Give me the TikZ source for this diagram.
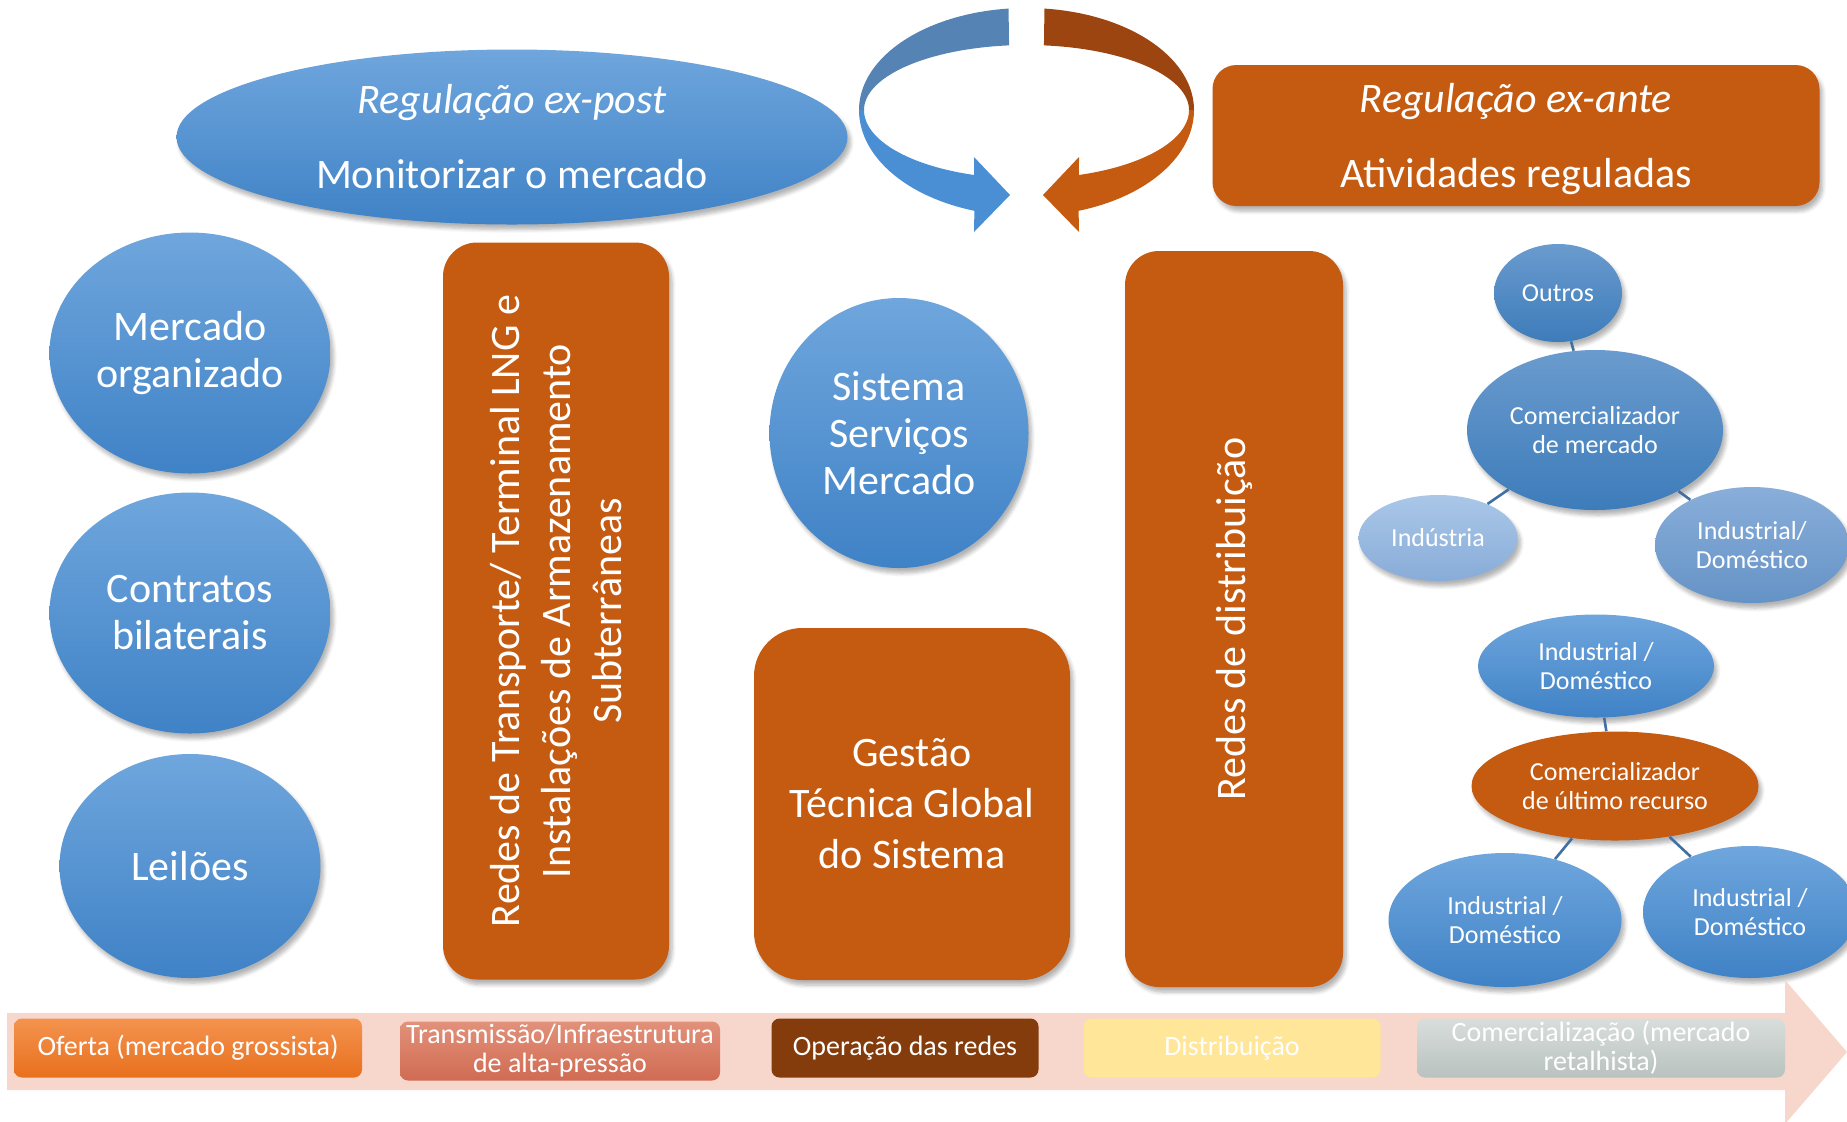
\documentclass[tikz,border=0pt]{standalone}
\usepackage{fontspec}
\setmainfont{Carlito}
\usetikzlibrary{shapes.geometric,shadows.blur}

\definecolor{orng}{HTML}{C55A11}
\definecolor{bluetop}{HTML}{6FA6DD}
\definecolor{bluebot}{HTML}{3F82C6}
\definecolor{steeltop}{HTML}{6A9BCE}
\definecolor{steelbot}{HTML}{3D7CBA}
\definecolor{paletop}{HTML}{AAC7E8}
\definecolor{palebot}{HTML}{88ACD8}
\definecolor{midtop}{HTML}{89AEDA}
\definecolor{midbot}{HTML}{6593C6}
\definecolor{linkblue}{HTML}{3F6FA3}
\definecolor{ribbonbluedark}{HTML}{5583B3}
\definecolor{ribbonbluelight}{HTML}{4A8FD3}
\definecolor{ribbonorgdark}{HTML}{9D4510}
\definecolor{barpink}{HTML}{F7D6CC}
\definecolor{ofertatop}{HTML}{F4934F}
\definecolor{ofertabot}{HTML}{E8701E}
\definecolor{transtop}{HTML}{E2917B}
\definecolor{transbot}{HTML}{D06B52}
\definecolor{operbrown}{HTML}{843C0C}
\definecolor{distyellow}{HTML}{FFE699}
\definecolor{comtop}{HTML}{D8DEDC}
\definecolor{combot}{HTML}{B9C2BF}

\newcommand{\bigtxt}{\fontsize{21}{25.5}\selectfont}
\newcommand{\ovaltxt}{\fontsize{21}{23.5}\selectfont}
\newcommand{\smalltxt}{\fontsize{13}{14.8}\selectfont}
\newcommand{\bartxt}{\fontsize{14}{14.5}\selectfont}

\begin{document}
\begin{tikzpicture}[x=0.5pt,y=-0.5pt,
  softshadow/.style={blur shadow={shadow xshift=1.5pt, shadow yshift=-2.5pt, shadow blur steps=6, shadow opacity=30}},
  whitebig/.style={text=white, align=center, font=\bigtxt},
  blueoval/.style={ellipse, inner sep=0pt, top color=bluetop, bottom color=bluebot, text=white, align=center, font=\ovaltxt, softshadow},
  orangebox/.style={rectangle, inner sep=0pt, fill=orng, whitebig, softshadow},
  smalloval/.style={ellipse, inner sep=0pt, text=white, align=center, font=\smalltxt, softshadow},
  barbox/.style={rectangle, rounded corners=4pt, inner sep=0pt, text=white, align=center, font=\bartxt, minimum height=29.5pt},
  link/.style={draw=linkblue, line width=1.3pt}
]
\useasboundingbox (0,0) rectangle (1847,1121);

% circular arrows between the two regulation regimes
\fill[ribbonbluedark]
  plot[domain=0:84, samples=50, variable=\t] ({1026+167*cos(-96-\t)},{110+102*sin(-96-\t)})
  -- plot[domain=0:84, samples=50, variable=\t] ({1026+162*cos(180+\t)},{110+65*sin(180+\t)})
  -- cycle;
\fill[ribbonbluelight]
  plot[domain=0:72, samples=50, variable=\t] ({1026+167*cos(180-\t)},{110+106*sin(180-\t)})
  -- (974,232) -- (1010,195) -- (974,157)
  -- plot[domain=0:71.3, samples=50, variable=\t] ({1026+162*cos(108.7+\t)},{110+68.6*sin(108.7+\t)})
  -- cycle;
\fill[ribbonorgdark]
  plot[domain=0:84, samples=50, variable=\t] ({1027-167*cos(-96-\t)},{110+102*sin(-96-\t)})
  -- plot[domain=0:84, samples=50, variable=\t] ({1027-162*cos(180+\t)},{110+65*sin(180+\t)})
  -- cycle;
\fill[orng]
  plot[domain=0:72, samples=50, variable=\t] ({1027-167*cos(180-\t)},{110+106*sin(180-\t)})
  -- (1079,232) -- (1043,195) -- (1079,157)
  -- plot[domain=0:71.3, samples=50, variable=\t] ({1027-162*cos(108.7+\t)},{110+68.6*sin(108.7+\t)})
  -- cycle;

% regulation headers
\node[blueoval, font=\bigtxt, minimum width=335.5pt, minimum height=87.5pt] (expost) at (512,137)
  {{\itshape Regulação ex-post}\\[12pt]Monitorizar o mercado};
\node[orangebox, rounded corners=12pt, minimum width=303.5pt, minimum height=70.5pt, text depth=0pt] (exante) at (1516,135.5)
  {{\itshape Regulação ex-ante}\\[12pt]Atividades reguladas};

% wholesale market
\node[blueoval, minimum width=140.5pt, minimum height=120.5pt] (organizado) at (190,353) {Mercado\\organizado};
\node[blueoval, minimum width=140.5pt, minimum height=120.5pt] (bilaterais) at (190,613) {Contratos\\bilaterais};
\node[blueoval, minimum width=130.5pt, minimum height=112pt] (leiloes) at (190,866) {Leilões};

% networks and system operation
\node[orangebox, rounded corners=17pt, rotate=90, minimum width=368.5pt, minimum height=113pt] (transporte) at (556,611)
  {Redes de Transporte/ Terminal LNG e\\Instalações de Armazenamento\\Subterrâneas};
\node[blueoval, minimum width=129.5pt, minimum height=135pt] (sistema) at (899,433) {Sistema\\Serviços\\Mercado};
\node[orangebox, rounded corners=24pt, minimum width=158pt, minimum height=176pt] (gestao) at (912,804)
  {Gestão\\Técnica Global\\do Sistema};
\node[orangebox, rounded corners=17pt, rotate=90, minimum width=368pt, minimum height=109pt] (distribuicao) at (1234,619)
  {Redes de distribuição};

% retail: market supplier
\node[smalloval, top color=steeltop, bottom color=steelbot, minimum width=64pt, minimum height=49pt] (outros) at (1558,293) {Outros};
\node[smalloval, top color=steeltop, bottom color=steelbot, minimum width=128pt, minimum height=80pt] (cmercado) at (1595,430) {Comercializador\\de mercado};
\node[smalloval, top color=paletop, bottom color=palebot, minimum width=79.5pt, minimum height=43pt] (industria) at (1438,538) {Indústria};
\node[smalloval, top color=midtop, bottom color=midbot, minimum width=97pt, minimum height=58pt] (indom1) at (1752,545) {Industrial/\\Doméstico};
\draw[link] (outros) -- (cmercado);
\draw[link] (industria) -- (cmercado);
\draw[link] (indom1) -- (cmercado);

% retail: supplier of last resort
\node[smalloval, top color=bluetop, bottom color=bluebot, minimum width=118pt, minimum height=51.5pt] (indom2) at (1596,666) {Industrial /\\Doméstico};
\node[smalloval, fill=orng, minimum width=143.5pt, minimum height=54.5pt] (ultimo) at (1615,786) {Comercializador\\de último recurso};
\node[smalloval, top color=bluetop, bottom color=bluebot, minimum width=116.5pt, minimum height=67pt] (indom3) at (1505,920) {Industrial /\\Doméstico};
\node[smalloval, top color=bluetop, bottom color=bluebot, minimum width=107pt, minimum height=66pt] (indom4) at (1750,912) {Industrial /\\Doméstico};
\draw[link] (indom2) -- (ultimo);
\draw[link] (ultimo) -- (indom3);
\draw[link] (ultimo) -- (indom4);

% value chain arrow
\fill[barpink] (7,1013) -- (1785,1013) -- (1785,980) -- (1847,1052) -- (1785,1124) -- (1785,1090) -- (7,1090) -- cycle;
\node[barbox, top color=ofertatop, bottom color=ofertabot, minimum width=174pt] (oferta) at (188,1048) {Oferta (mercado grossista)};
\node[barbox, top color=transtop, bottom color=transbot, minimum width=160pt] (transmissao) at (560,1051) {Transmissão/Infraestrutura\\de alta-pressão};
\node[barbox, fill=operbrown, minimum width=133.5pt] (operacao) at (905,1048) {Operação das redes};
\node[barbox, fill=distyellow, minimum width=148.5pt] (distrib) at (1232,1048) {Distribuição};
\node[barbox, top color=comtop, bottom color=combot, minimum width=184pt] (comerc) at (1601,1048) {Comercialização (mercado\\retalhista)};
\end{tikzpicture}
\end{document}
